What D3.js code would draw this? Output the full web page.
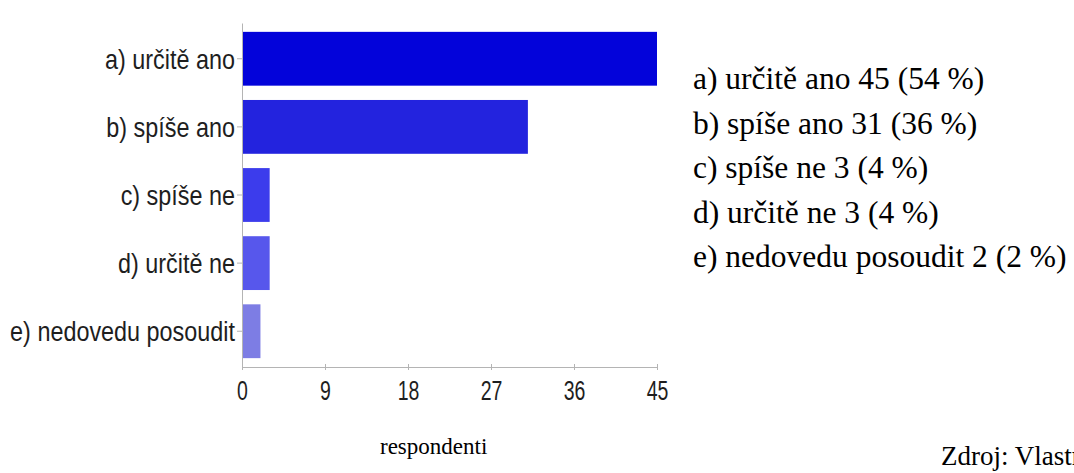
<!DOCTYPE html>
<html>
<head>
<meta charset="utf-8">
<script src="https://cdn.jsdelivr.net/npm/d3@7"></script>
<style>
  html, body { margin: 0; padding: 0; background: #fff; }
  svg { display: block; }
</style>
</head>
<body>
<svg id="chart" width="1074" height="473"></svg>
<script>
// Answer categories, respondent counts and shares
const categories = ["a) určitě ano", "b) spíše ano", "c) spíše ne", "d) určitě ne", "e) nedovedu posoudit"];
const counts = [45, 31, 3, 3, 2];
const percents = [54, 36, 4, 4, 2];
const xTicks = [0, 9, 18, 27, 36, 45];
const barColors = ["#0303da", "#2323de", "#3c3cec", "#5757ec", "#7d7de4"];
const axisTitle = "respondenti";
const sourceNote = "Zdroj: Vlastní šetření";

const svg = d3.select("#chart");

const x = d3.scaleLinear().domain([0, 45]).range([242, 657]);
const y = d3.scaleBand().domain(categories).range([23, 367])
  .paddingInner(0.21).paddingOuter(0.13);

const axisColor = "#b4b4b4";
const sansFont = "'Liberation Sans', Arial, sans-serif";
const serifFont = "'Liberation Serif', 'Times New Roman', serif";

// Bars
svg.append("g").selectAll("rect")
  .data(categories)
  .join("rect")
  .attr("x", x(0))
  .attr("y", d => y(d))
  .attr("width", (d, i) => x(counts[i]) - x(0))
  .attr("height", y.bandwidth())
  .attr("fill", (d, i) => barColors[i]);

// Category axis
const yAxis = svg.append("g")
  .attr("transform", `translate(${x(0)},0)`)
  .call(d3.axisLeft(y).tickSize(5).tickSizeOuter(0).tickPadding(2));
yAxis.select(".domain").attr("stroke", axisColor);
yAxis.selectAll(".tick line").attr("stroke", axisColor);
yAxis.selectAll(".tick text")
  .attr("fill", "#1e1e1e")
  .style("font-family", sansFont)
  .style("font-size", "23.4px")
  .attr("dy", null)
  .attr("y", 0)
  .attr("dominant-baseline", "central")
  .attr("transform", "scale(1,1.2)");

// Value axis
const xAxis = svg.append("g")
  .attr("transform", `translate(0,367)`)
  .call(d3.axisBottom(x).tickValues(xTicks).tickSize(3).tickSizeOuter(0).tickPadding(0));
xAxis.select(".domain").attr("stroke", axisColor);
xAxis.selectAll(".tick line").attr("stroke", axisColor).attr("y1", -3);
xAxis.selectAll(".tick text")
  .attr("fill", "#1e1e1e")
  .style("font-family", sansFont)
  .style("font-size", "19.5px")
  .attr("dy", null)
  .attr("y", 0)
  .attr("transform", "translate(0,32.5) scale(1,1.38)");

// Summary list next to the chart
svg.append("g").selectAll("text")
  .data(categories)
  .join("text")
  .attr("x", 693)
  .attr("y", (d, i) => 89 + i * 44.5)
  .attr("fill", "#000")
  .style("font-family", serifFont)
  .style("font-size", "31.5px")
  .text((d, i) => `${d} ${counts[i]} (${percents[i]} %)`);

// Axis title and source note
svg.append("text")
  .attr("x", 380).attr("y", 454)
  .style("font-family", serifFont).style("font-size", "23px")
  .text(axisTitle);
svg.append("text")
  .attr("x", 941).attr("y", 465)
  .style("font-family", serifFont).style("font-size", "27px")
  .text(sourceNote);
</script>
</body>
</html>
